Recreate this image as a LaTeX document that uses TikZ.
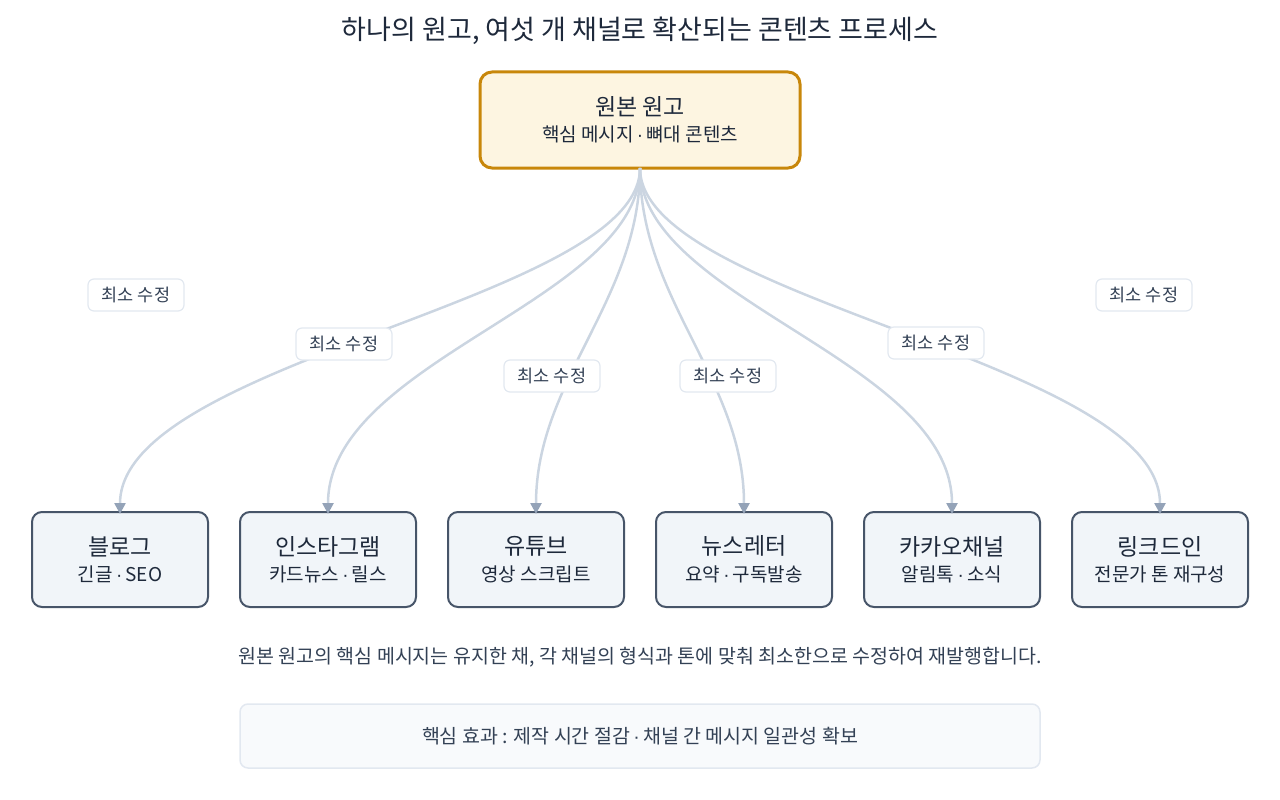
\documentclass[tikz,border=0pt]{standalone}
\usepackage{fontspec}
\setmainfont{Noto Sans CJK KR}
\newfontfamily\latf{Liberation Sans}
\newcommand{\md}{{\latf\,·\,}}
\usetikzlibrary{arrows.meta}
\definecolor{edge}{HTML}{CBD5E1}
\definecolor{tip}{HTML}{94A3B8}
\definecolor{ink}{HTML}{1E293B}
\definecolor{sub}{HTML}{334155}
\definecolor{chstroke}{HTML}{475569}
\definecolor{chfill}{HTML}{F1F5F9}
\definecolor{srcfill}{HTML}{FDF5E1}
\definecolor{srcstroke}{HTML}{C8870A}
\definecolor{lblstroke}{HTML}{E2E8F0}
\definecolor{notefill}{HTML}{F8FAFC}
\begin{document}
\begin{tikzpicture}[x=1pt,y=-1pt,
  chan/.style={draw=chstroke,line width=2pt,fill=chfill,rounded corners=10pt,minimum width=176pt,minimum height=95pt,align=center,text=ink},
  src/.style={draw=srcstroke,line width=3pt,fill=srcfill,rounded corners=12pt,minimum width=320pt,minimum height=96pt,align=center,text=ink},
  lbl/.style={draw=lblstroke,line width=1.2pt,fill=white,rounded corners=6pt,minimum width=96pt,minimum height=32pt,font=\fontsize{17.5}{20}\selectfont,text=sub},
  conn/.style={draw=edge,line width=2.5pt,-{Triangle[length=11pt,width=11pt,color=tip]}}]
\useasboundingbox (0,0) rectangle (1280,800);
\node[font=\fontsize{27}{30}\selectfont,text=ink] (title) at (640,31) {하나의 원고, 여섯 개 채널로 확산되는 콘텐츠 프로세스};
\node[src] (s) at (640,120) {{\fontsize{23}{26}\selectfont 원본 원고}\\[8pt]{\fontsize{19}{22}\selectfont 핵심 메시지\md 뼈대 콘텐츠}};
\coordinate (o) at (640,168);
\foreach \n/\x/\t/\d in {c1/120/블로그/긴글\md SEO, c2/328/인스타그램/카드뉴스\md 릴스, c3/536/유튜브/영상 스크립트, c4/744/뉴스레터/요약\md 구독발송, c5/952/카카오채널/알림톡\md 소식, c6/1160/링크드인/전문가 톤 재구성}{
  \node[chan] (\n) at (\x,559.5) {{\fontsize{23}{26}\selectfont \t}\\[8pt]{\fontsize{19}{22}\selectfont \d}};
}
\draw[conn] (o) .. controls (640,300) and (120,360) .. ([yshift=-3pt]c1.north);
\draw[conn] (o) .. controls (640,300) and (328,360) .. ([yshift=-3pt]c2.north);
\draw[conn] (o) .. controls (640,300) and (536,380) .. ([yshift=-3pt]c3.north);
\draw[conn] (o) .. controls (640,300) and (744,380) .. ([yshift=-3pt]c4.north);
\draw[conn] (o) .. controls (640,300) and (952,360) .. ([yshift=-3pt]c5.north);
\draw[conn] (o) .. controls (640,300) and (1160,360) .. ([yshift=-3pt]c6.north);
\node[lbl] (l0) at (136,295) {최소 수정};
\node[lbl] (l1) at (344,344) {최소 수정};
\node[lbl] (l3) at (552,376) {최소 수정};
\node[lbl] (l4) at (728,376) {최소 수정};
\node[lbl] (l5) at (936,343) {최소 수정};
\node[lbl] (l6) at (1144,295) {최소 수정};
\node[font=\fontsize{19.5}{22}\selectfont,text=sub] (cap) at (640,657) {원본 원고의 핵심 메시지는 유지한 채, 각 채널의 형식과 톤에 맞춰 최소한으로 수정하여 재발행합니다.};
\node[draw=lblstroke,line width=1.5pt,fill=notefill,rounded corners=8pt,minimum width=800pt,minimum height=64pt,font=\fontsize{19.5}{22}\selectfont,text=sub] (note) at (640,736) {핵심 효과 : 제작 시간 절감\md 채널 간 메시지 일관성 확보};
\end{tikzpicture}
\end{document}
